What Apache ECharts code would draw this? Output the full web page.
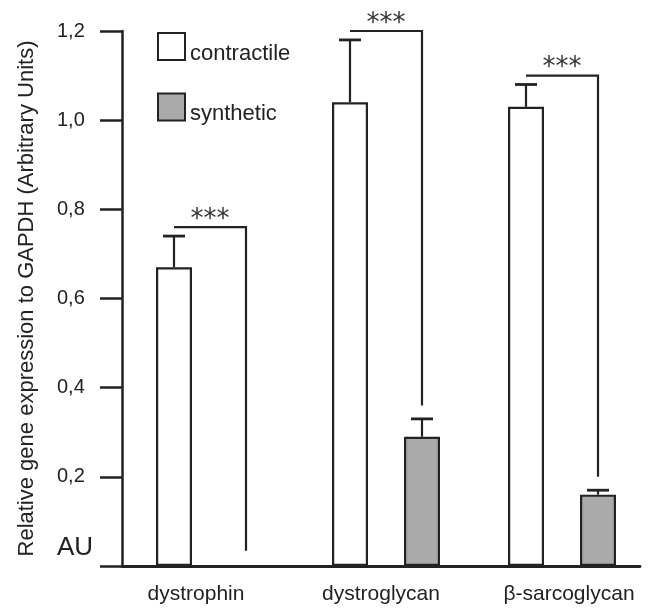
<!DOCTYPE html>
<html>
<head>
<meta charset="utf-8">
<script src="https://cdn.jsdelivr.net/npm/echarts@6/dist/echarts.min.js"></script>
<style>html,body{margin:0;padding:0;background:#fff;}#c{width:650px;height:609px;}</style>
</head>
<body>
<div id="c"></div>
<script>
const categories = ['dystrophin', 'dystroglycan', 'β-sarcoglycan'];
const contractile = [0.67, 1.04, 1.03];
const synthetic = ['-', 0.29, 0.16];
const contractileErrTop = [0.74, 1.18, 1.08];
const syntheticErrTop = [null, 0.33, 0.17];
const bracketTop = [0.76, 1.20, 1.10];
const bracketBottom = [0.034, 0.36, 0.20];
const bracketText = ['***', '***', '***'];
const yTickLabels = {0: 'AU', 0.2: '0,2', 0.4: '0,4', 0.6: '0,6', 0.8: '0,8', 1: '1,0', 1.2: '1,2'};

const FONT = 'Liberation Sans, Arial, sans-serif';
const INK = '#222';
const BAR_W = 36, BAR_GAP_PX = 36;
const HALF = (BAR_W + BAR_GAP_PX) / 2;

const errData = [];
contractile.forEach((v, i) => { if (contractileErrTop[i] != null) errData.push([i, contractileErrTop[i], v, -1]); });
synthetic.forEach((v, i) => { if (syntheticErrTop[i] != null) errData.push([i, syntheticErrTop[i], v, 1]); });
const bracketData = categories.map((c, i) => [i, bracketTop[i], bracketBottom[i]]);

const chart = echarts.init(document.getElementById('c'), null, {renderer: 'canvas'});
chart.setOption({
  animation: false,
  backgroundColor: '#fff',
  textStyle: {fontFamily: FONT, color: INK},
  legend: {
    data: ['contractile', 'synthetic'],
    orient: 'vertical', left: 157, top: 32, padding: 0,
    itemWidth: 27, itemHeight: 27, itemGap: 28, itemTextGap: 7,
    icon: 'rect',
    formatter: '{t|{name}}',
    textStyle: {fontSize: 22, color: INK, fontFamily: FONT,
      rich: {t: {fontSize: 22, color: INK, fontFamily: FONT, padding: [14, 0, 0, 0]}}}
  },
  grid: [
    {left: 122, right: 10, top: 31, bottom: 43},
    {left: 122, width: 537, top: 31, bottom: 43}
  ],
  xAxis: [
    {gridIndex: 0, type: 'value', min: 0, max: 1, axisLine: {show: true, lineStyle: {color: INK, width: 2.8}},
     axisTick: {show: false}, axisLabel: {show: false}, splitLine: {show: false}},
    {gridIndex: 1, type: 'category', data: categories, axisLine: {show: false}, axisTick: {show: false},
     axisLabel: {interval: 0, hideOverlap: false, margin: 18, fontSize: 21, color: INK, fontFamily: FONT,
       formatter: (v, i) => ['{a|' + v + '}', '{b|' + v + '}', '{c|' + v + '}'][i],
       rich: {a: {fontSize: 21, padding: [0, 28, 0, 0]}, b: {fontSize: 21, padding: [0, 10, 0, 0]}, c: {fontSize: 21, padding: [0, 0, 0, 14]}}}}
  ],
  yAxis: [
    {gridIndex: 0, type: 'value', min: 0, max: 1.2, interval: 0.2,
     name: 'Relative gene expression to GAPDH (Arbitrary Units)', nameLocation: 'middle', nameGap: 84,
     nameTextStyle: {fontSize: 22, color: INK, fontFamily: FONT},
     axisLine: {show: true, lineStyle: {color: INK, width: 2.5}},
     axisTick: {show: true, inside: false, length: 22, lineStyle: {color: INK, width: 2.5}},
     axisLabel: {align: 'left', margin: 65, fontSize: 20, color: INK, fontFamily: FONT,
       formatter: v => { const k = Math.round(v * 10) / 10; return k === 0 ? '{au|AU}' : (yTickLabels[k] || ''); },
       rich: {au: {fontSize: 26, color: INK, fontFamily: FONT, padding: [0, 0, 36, 0]}}},
     splitLine: {show: false}},
    {gridIndex: 1, type: 'value', min: 0, max: 1.2, interval: 0.2, show: false}
  ],
  series: [
    {name: 'contractile', type: 'bar', xAxisIndex: 1, yAxisIndex: 1, data: contractile,
     barWidth: BAR_W, barGap: (BAR_GAP_PX / BAR_W * 100) + '%',
     itemStyle: {color: '#fff', borderColor: INK, borderWidth: 2.2}},
    {name: 'synthetic', type: 'bar', xAxisIndex: 1, yAxisIndex: 1, data: synthetic,
     barWidth: BAR_W,
     itemStyle: {color: '#aaaaaa', borderColor: INK, borderWidth: 2.2}},
    {type: 'custom', xAxisIndex: 1, yAxisIndex: 1, data: errData, silent: true,
     renderItem: (params, api) => {
       const i = api.value(0), top = api.value(1), base = api.value(2), side = api.value(3);
       const p0 = api.coord([i, base]), p1 = api.coord([i, top]);
       const x = p0[0] + side * HALF;
       return {type: 'group', children: [
         {type: 'line', shape: {x1: x, y1: p0[1], x2: x, y2: p1[1]}, style: {stroke: INK, lineWidth: 2.2}},
         {type: 'line', shape: {x1: x - 11, y1: p1[1], x2: x + 11, y2: p1[1]}, style: {stroke: INK, lineWidth: 2.8}}
       ]};
     }},
    {type: 'custom', xAxisIndex: 1, yAxisIndex: 1, data: bracketData, silent: true,
     renderItem: (params, api) => {
       const i = api.value(0), top = api.value(1), bot = api.value(2);
       const pt = api.coord([i, top]), pb = api.coord([i, bot]);
       const xl = pt[0] - HALF, xr = pt[0] + HALF;
       return {type: 'group', children: [
         {type: 'polyline', shape: {points: [[xl, pt[1]], [xr, pt[1]], [xr, pb[1]]]}, style: {stroke: INK, lineWidth: 2.2, fill: null}},
         {type: 'text', x: pt[0], y: pt[1] - 7, style: {text: bracketText[i], fill: '#333', font: '26px DejaVu Sans', align: 'center', verticalAlign: 'middle'}}
       ]};
     }}
  ]
});
</script>
</body>
</html>
